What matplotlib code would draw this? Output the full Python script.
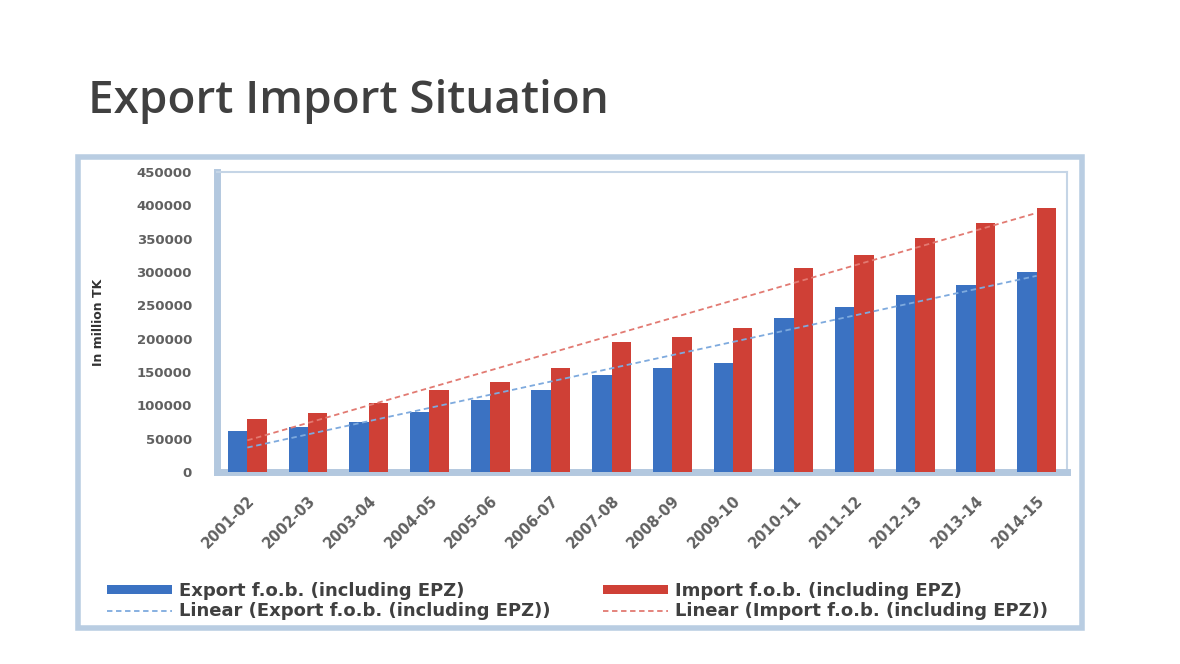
import numpy as np
import matplotlib.pyplot as plt
from matplotlib.patches import Rectangle

years = ['2001-02', '2002-03', '2003-04', '2004-05', '2005-06', '2006-07', '2007-08',
         '2008-09', '2009-10', '2010-11', '2011-12', '2012-13', '2013-14', '2014-15']
export_fob = [62000, 67500, 75000, 90000, 108000, 123000, 145500,
              156000, 163500, 231000, 248000, 266000, 281000, 300000]
import_fob = [80000, 88500, 103500, 123000, 135000, 156000, 195000,
              202500, 216000, 306000, 326000, 351000, 374000, 396000]
y_ticks = list(range(0, 450001, 50000))

labels = ['Export f.o.b. (including EPZ)', 'Import f.o.b. (including EPZ)',
          'Linear (Export f.o.b. (including EPZ))', 'Linear (Import f.o.b. (including EPZ))']

blue = '#3b72c2'
red = '#cf4036'


def main():
    fig = plt.figure(figsize=(11.8, 6.64), dpi=100)
    fig.patch.set_facecolor('white')

    fig.text(88 / 1180, 1 - 101 / 664, 'Export Import Situation', fontsize=33,
             family='Open Sans', fontweight='semibold', color='#404040',
             va='center', ha='left')

    # outer chart frame
    fig.patches.append(Rectangle((78 / 1180, 1 - 628 / 664), 1004 / 1180, 471 / 664,
                                 transform=fig.transFigure, fill=False,
                                 edgecolor='#b9cde2', linewidth=4))

    ax = fig.add_axes([217 / 1180, 1 - 472 / 664, 850 / 1180, 300 / 664])
    x = np.arange(len(years))
    w = 0.32
    b1 = ax.bar(x - w / 2, export_fob, w, color=blue, zorder=3)
    b2 = ax.bar(x + w / 2, import_fob, w, color=red, zorder=3)

    ex_fit = np.polyval(np.polyfit(x, export_fob, 1), x)
    im_fit = np.polyval(np.polyfit(x, import_fob, 1), x)
    l1, = ax.plot(x, ex_fit, color='#7eaade', linestyle=(0, (3, 2)), linewidth=1.3, zorder=4)
    l2, = ax.plot(x, im_fit, color='#e27a72', linestyle=(0, (3, 2)), linewidth=1.3, zorder=4)

    ax.set_xlim(-0.5, len(years) - 0.5)
    ax.set_ylim(0, 450000)
    ax.set_yticks(y_ticks)
    ax.set_yticklabels([str(v) for v in y_ticks], fontsize=9.5, fontweight='bold',
                       color='#606060')
    ax.set_xticks(x)
    ax.set_xticklabels(years, rotation=45, ha='right', rotation_mode='anchor',
                       fontsize=10.5, fontweight='bold', color='#606060')
    ax.tick_params(axis='y', length=0, pad=18)
    ax.tick_params(axis='x', length=0, pad=15)
    for side in ['top', 'right']:
        ax.spines[side].set_color('#c5d5e6')
        ax.spines[side].set_linewidth(1.5)
    for side in ['left', 'bottom']:
        ax.spines[side].set_color('#b3c8df')
        ax.spines[side].set_linewidth(5)

    fig.text(98 / 1180, 1 - 322 / 664, 'In million TK', rotation=90, fontsize=9,
             fontweight='bold', color='#333333', va='center', ha='center')

    fig.legend([b1, l1, b2, l2], [labels[0], labels[2], labels[1], labels[3]], ncol=2,
               loc='upper left', bbox_to_anchor=(107 / 1180, 1 - 582 / 664),
               frameon=False, borderpad=0, borderaxespad=0,
               prop={'size': 13, 'weight': 'bold'}, handlelength=3.6, handleheight=0.45,
               handletextpad=0.4, columnspacing=2.9, labelspacing=0.12,
               labelcolor='#404040')

    fig.savefig('out.png', dpi=100, facecolor='white')


if __name__ == '__main__':
    main()
